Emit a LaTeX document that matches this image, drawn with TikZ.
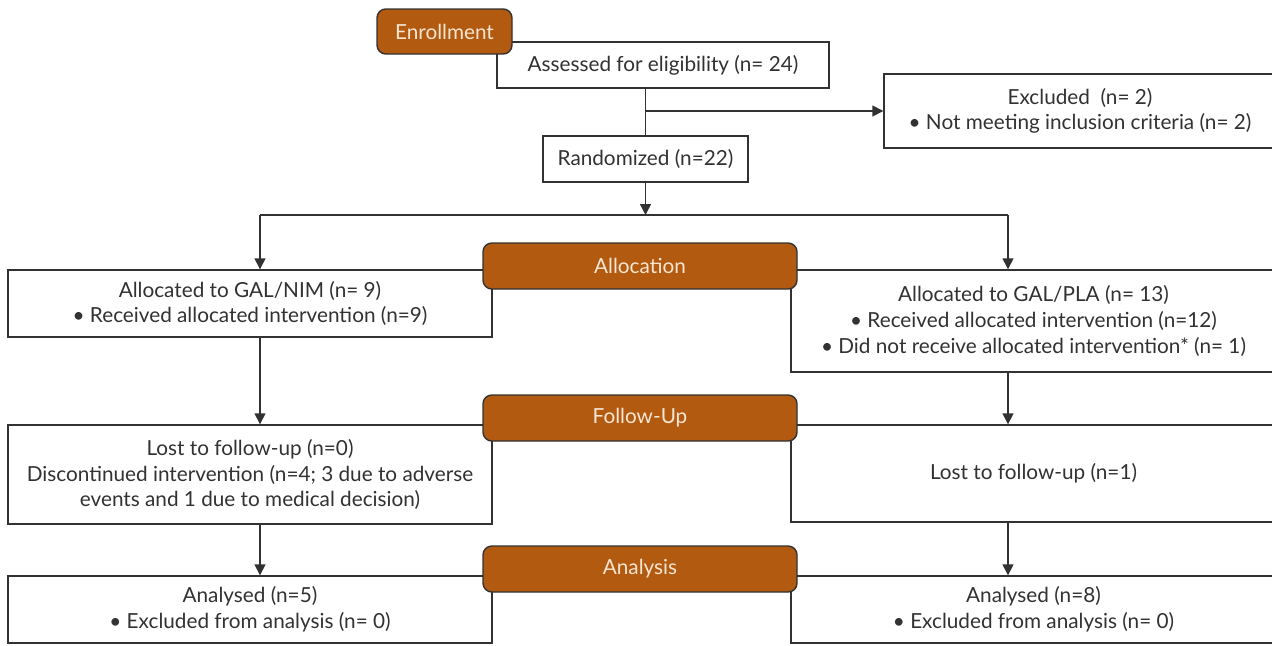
\documentclass[tikz,border=0pt]{standalone}
\usepackage{fontspec}
\setmainfont{Lato}
\usepackage{tikz}
\usetikzlibrary{calc}
\usetikzlibrary{arrows.meta}
\usepackage{color}
\definecolor{pumpkin}{RGB}{179, 90, 17}
\definecolor{cream}{RGB}{248, 230, 210}
\definecolor{asphalt}{RGB}{50, 50, 50}
\tikzset{
    flowbox/.style={draw=asphalt, fill=white, text=asphalt, line width=0.8pt, align=center, inner sep=0pt,
                    font=\fontsize{11.8}{14.6}\selectfont},
    phase/.style={draw=asphalt, fill=pumpkin, text=cream, line width=0.8pt, rounded corners=5pt, inner sep=0pt,
                  minimum width=6.28cm, minimum height=0.92cm, font=\fontsize{11.8}{14}\selectfont},
    flowline/.style={draw=asphalt, line width=0.8pt},
    flowarrow/.style={flowline, -{Triangle[length=0.22cm, width=0.22cm]}}
}

\begin{document}
\begin{tikzpicture}
            % Frame to fix the page
            \useasboundingbox                                                  (0.00, 0.00) rectangle (25.44,-12.90);
            % Enrollment
            \node[flowbox, minimum width=6.64cm, minimum height=0.92cm] (assess) at (13.26,-1.30) {Assessed for eligibility (n= 24)};
            \node[flowbox, minimum width=7.84cm, minimum height=1.48cm] (excl)   at (21.60,-2.22) {Excluded\ \ (n= 2)\\ • Not meeting inclusion criteria (n= 2)};
            \node[flowbox, minimum width=4.10cm, minimum height=0.92cm] (rand)   at (12.91,-3.18) {Randomized (n=22)};
            \node[phase,   minimum width=2.70cm, minimum height=0.90cm] (enroll) at ( 8.89,-0.63) {Enrollment};
            \coordinate (split) at (12.91,-4.30);
            \coordinate (leftdrop)  at ( 5.20,-4.30);
            \coordinate (rightdrop) at (20.16,-4.30);
            % Allocation
            \node[flowbox, minimum width=9.68cm, minimum height=1.34cm] (nim)    at ( 5.00,-6.07) {Allocated to GAL/NIM (n= 9)\\ • Received allocated intervention (n=9)};
            \node[flowbox, minimum width=9.70cm, minimum height=2.04cm] (pla)    at (20.67,-6.42) {Allocated to GAL/PLA (n= 13)\\ • Received allocated intervention (n=12)\\ • Did not receive allocated intervention* (n= 1)};
            \node[phase]                                                (alloc)  at (12.80,-5.32) {Allocation};
            % Follow-Up
            \node[flowbox, minimum width=9.68cm, minimum height=1.98cm] (nimfu)  at ( 5.00,-9.49) {Lost to follow-up (n=0)\\ Discontinued intervention (n=4; 3 due to adverse\\ events and 1 due to medical decision)};
            \node[flowbox, minimum width=9.70cm, minimum height=1.94cm] (plafu)  at (20.67,-9.47) {Lost to follow-up (n=1)};
            \node[phase]                                                (follow) at (12.80,-8.36) {Follow-Up};
            % Analysis
            \node[flowbox, minimum width=9.68cm, minimum height=1.34cm] (niman)  at ( 5.00,-12.19) {Analysed (n=5)\\ • Excluded from analysis (n= 0)};
            \node[flowbox, minimum width=9.70cm, minimum height=1.34cm] (plaan)  at (20.67,-12.19) {Analysed (n=8)\\ • Excluded from analysis (n= 0)};
            \node[phase]                                                (anal)   at (12.80,-11.38) {Analysis};
            % Connectors
            \draw[flowline]  (assess.south -| rand.north) -- (rand.north);
            \draw[flowarrow] (rand.north |- excl.west) -- (excl.west);
            \draw[flowarrow] (rand.south) -- (split);
            \draw[flowline]  (leftdrop) -- (rightdrop);
            \draw[flowarrow] (leftdrop)  -- (leftdrop |- nim.north);
            \draw[flowarrow] (rightdrop) -- (rightdrop |- pla.north);
            \draw[flowarrow] (leftdrop |- nim.south)    -- (leftdrop |- nimfu.north);
            \draw[flowarrow] (rightdrop |- pla.south)   -- (rightdrop |- plafu.north);
            \draw[flowarrow] (leftdrop |- nimfu.south)  -- (leftdrop |- niman.north);
            \draw[flowarrow] (rightdrop |- plafu.south) -- (rightdrop |- plaan.north);
\end{tikzpicture}
\end{document}
